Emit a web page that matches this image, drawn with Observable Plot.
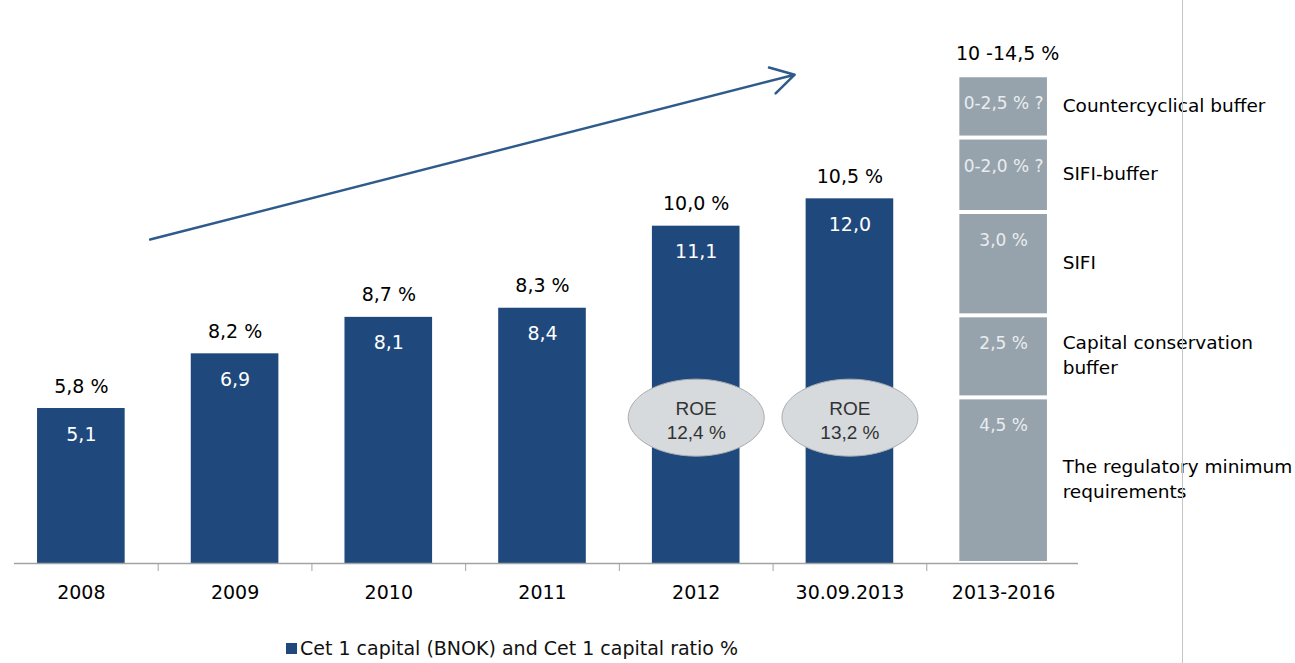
<!DOCTYPE html>
<html><head><meta charset="utf-8">
<script src="https://cdn.jsdelivr.net/npm/d3@7"></script>
<script src="https://cdn.jsdelivr.net/npm/@observablehq/plot@0.6"></script>
<style>
body{margin:0;background:#fff;font-family:"DejaVu Sans",sans-serif;}
#wrap{position:relative;width:1295px;height:663px;overflow:hidden;}
#vline{position:absolute;left:1182px;top:0;width:1px;height:663px;background:#c4c4c4;}
#legend{position:absolute;left:286px;top:637px;font-size:19px;color:#111;display:flex;align-items:center;gap:3px;white-space:nowrap;}
#legend .sw{width:11px;height:11px;background:#1F497D;display:inline-block;}
</style></head><body>
<div id="wrap"><div id="chart"></div><div id="vline"></div>
<div id="legend"><span class="sw"></span><span>Cet 1 capital (BNOK) and Cet 1 capital ratio %</span></div></div>
<script>
// ---- data ----
const periods = ["2008", "2009", "2010", "2011", "2012", "30.09.2013"];
const cet1Capital = [5.1, 6.9, 8.1, 8.4, 11.1, 12.0];
const cet1Ratio = [5.8, 8.2, 8.7, 8.3, 10.0, 10.5];
const roe = [null, null, null, null, 12.4, 13.2];
const targetCategory = "2013-2016";
const targetTotalLabel = "10 -14,5 %";
const segmentHeights = [5.45, 2.7, 3.4, 2.45, 2.05];
const segmentLabels = ["4,5 %", "2,5 %", "3,0 %", "0-2,0 % ?", "0-2,5 % ?"];
const segmentNames = ["The regulatory minimum\nrequirements", "Capital conservation\nbuffer", "SIFI", "SIFI-buffer", "Countercyclical buffer"];
const categories = [...periods, targetCategory];

// ---- derived tables ----
const fmt = v => v.toFixed(1).replace(".", ",");
const bars = periods.map((p, i) => ({period: p, capital: cet1Capital[i], ratio: cet1Ratio[i], roe: roe[i]}));
const segs = segmentHeights.map((h, i) => ({cat: targetCategory, h, label: segmentLabels[i], name: segmentNames[i]}));
const total = d3.sum(segmentHeights);
const roeRows = bars.filter(d => d.roe != null);

// ---- layout ----
const xRange = [4, 1080];
const step = (xRange[1] - xRange[0]) / categories.length;
const roeY = 4.8;
const navy = "#1F497D";
const grey = "#97A3AC";

const rx = 68, ry = 38.5, k = 0.5523;
const ellipse = {draw(ctx) {
  ctx.moveTo(rx, 0);
  ctx.bezierCurveTo(rx, ry * k, rx * k, ry, 0, ry);
  ctx.bezierCurveTo(-rx * k, ry, -rx, ry * k, -rx, 0);
  ctx.bezierCurveTo(-rx, -ry * k, -rx * k, -ry, 0, -ry);
  ctx.bezierCurveTo(rx * k, -ry, rx, -ry * k, rx, 0);
  ctx.closePath();
}};

const chart = Plot.plot({
  width: 1295, height: 625,
  marginLeft: 14, marginRight: 217, marginTop: 16, marginBottom: 62,
  style: {fontFamily: "DejaVu Sans", fontSize: "19px", color: "#000", background: "#fff"},
  x: {domain: categories, range: xRange, paddingInner: 0.43, paddingOuter: 0.215, round: false, label: null},
  y: {domain: [0, 18], range: [563, 16], axis: null},
  marks: [
    Plot.barY(bars, {x: "period", y: "capital", fill: navy}),
    Plot.barY(segs, {x: "cat", y: "h", fill: grey, insetTop: 2, insetBottom: 2}),
    Plot.ruleY([0], {stroke: "#a3a3a3", strokeWidth: 1.5}),
    Plot.ruleX(categories.slice(0, -1), {x: d => d, y1: 0, y2: 0, insetBottom: -8, dx: step / 2, stroke: "#a3a3a3", strokeWidth: 1}),
    Plot.axisX({tickSize: 0, tickPadding: 22, fontSize: 19, fill: "#000"}),
    // values inside bars
    Plot.text(bars, {x: "period", y: "capital", text: d => fmt(d.capital), dy: 26, fill: "white", fontSize: 19}),
    // ratio labels above bars
    Plot.text(bars, {x: "period", y: "capital", text: d => fmt(d.ratio) + " %", dy: -22, fill: "#000", fontSize: 19}),
    // stacked target segments
    Plot.text(segs, Plot.stackY2({x: "cat", y: "h", text: "label", dy: 28, fill: "#E9EDF0", fontSize: 17})),
    Plot.text(segs, Plot.stackY({x: "cat", y: "h", text: "name", textAnchor: "start", dx: 59, dy: -3, fill: "#000", fontSize: 18.5, lineHeight: 1.32})),
    Plot.text([total], {x: () => targetCategory, y: d => d, text: () => targetTotalLabel, dy: -22, dx: 4, fontSize: 19, fill: "#000"}),
    // ROE bubbles
    Plot.dot(roeRows, {x: "period", y: () => roeY, symbol: ellipse, fill: "#D6DADD", stroke: "#A9ADB0", strokeWidth: 1}),
    Plot.text(roeRows, {x: "period", y: () => roeY, text: d => `ROE\n${fmt(d.roe)} %`, fontFamily: "Liberation Sans", fontSize: 19, lineHeight: 1.27, fill: "#333", dy: 2}),
    // trend arrow
    Plot.arrow([{}], {x1: () => periods[0], x2: () => periods[periods.length - 1], y1: () => 10.08, y2: () => 16.55,
      insetStart: 71, insetEnd: 57, headLength: 16, stroke: "#2E5A8C", strokeWidth: 2.5})
  ]
});
document.getElementById("chart").append(chart);
</script>
</body></html>
